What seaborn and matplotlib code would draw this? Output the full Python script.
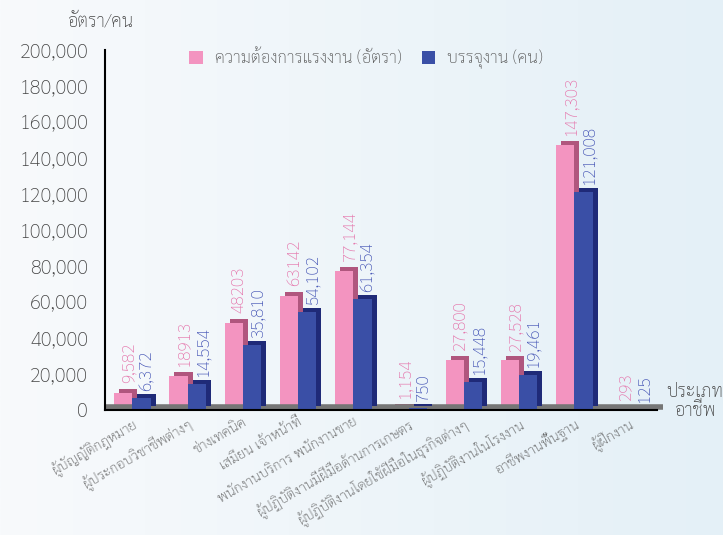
import numpy as np
import pandas as pd
import seaborn as sns
import matplotlib
matplotlib.use("Agg")
import matplotlib.pyplot as plt
import matplotlib.transforms as mtransforms
from matplotlib.colors import LinearSegmentedColormap

# occupation groups
occupations = [
    "ผู้บัญญัติกฎหมาย",
    "ผู้ประกอบวิชาชีพต่างๆ",
    "ช่างเทคนิค",
    "เสมียน เจ้าหน้าที่",
    "พนักงานบริการ พนักงานขาย",
    "ผู้ปฏิบัติงานมีฝีมือด้านการเกษตร",
    "ผู้ปฏิบัติงานโดยใช้ฝีมือในธุรกิจต่างๆ",
    "ผู้ปฏิบัติงานในโรงงาน",
    "อาชีพงานพื้นฐาน",
    "ผู้ฝึกงาน",
]
demand = [9582, 18913, 48203, 63142, 77144, 1154, 27800, 27528, 147303, 293]
placed = [6372, 14554, 35810, 54102, 61354, 750, 15448, 19461, 121008, 125]
# labels as printed on the chart
demand_labels = ["9,582", "18913", "48203", "63142", "77,144", "1,154", "27,800", "27,528", "147,303", "293"]
placed_labels = ["6,372", "14,554", "35,810", "54,102", "61,354", "750", "15,448", "19,461", "121,008", "125"]
yticks = list(range(0, 200001, 20000))

series_demand = "ความต้องการแรงงาน (อัตรา)"
series_placed = "บรรจุงาน (คน)"

df = pd.DataFrame({
    "occupation": occupations * 2,
    "value": demand + placed,
    "series": [series_demand] * len(occupations) + [series_placed] * len(occupations),
})

sns.set_style("white")
plt.rcParams["font.family"] = ["Sarabun", "DejaVu Sans"]
plt.rcParams["font.weight"] = "light"

pink = "#f394c0"
blue = "#3a4fa6"
pink_side = "#b0567e"
blue_side = "#1f2a78"
pink_text = "#e576ac"
blue_text = "#4656b6"

fig = plt.figure(figsize=(7.23, 5.35), dpi=100)

# light gradient background
bg = fig.add_axes([0, 0, 1, 1], zorder=-10)
grad_cmap = LinearSegmentedColormap.from_list("bg", ["#f8fafc", "#e4f0f7"])
bg.imshow(np.linspace(0, 1, 256).reshape(1, -1), aspect="auto", cmap=grad_cmap, extent=[0, 1, 0, 1])
bg.axis("off")

ax = fig.add_axes([0.145, 0.234, 0.764, 0.673])
ax.patch.set_alpha(0)

sns.barplot(data=df, x="occupation", y="value", hue="series",
            palette=[pink, blue], width=0.66, ax=ax, saturation=1,
            edgecolor="none", legend=True)

ax.set_ylim(0, 200000)
ax.set_xlim(-0.5, len(occupations) - 0.5)

# fake 3D depth: a darker copy of every bar pushed up and to the right
depth = mtransforms.ScaledTranslation(5 / 100, 4 / 100, fig.dpi_scale_trans)
n = len(occupations)
bars = [p for p in ax.patches if p.get_height() > 0 or p.get_width() > 0][:2 * n]
for i, p in enumerate(bars):
    side = pink_side if i < n else blue_side
    back = plt.Rectangle((p.get_x(), p.get_y()), p.get_width(), p.get_height(),
                         facecolor=side, edgecolor="none",
                         transform=ax.transData + depth, zorder=p.get_zorder() - 0.1 - (0.5 if i < n else 0))
    ax.add_patch(back)
    if i < n:
        p.set_zorder(p.get_zorder() - 0.5)

# floor
ax.plot([0, 1.01], [0, 0], color="#767676", lw=4, zorder=0.5, solid_capstyle="butt",
        transform=ax.get_yaxis_transform() + mtransforms.ScaledTranslation(0, 2.5 / 100, fig.dpi_scale_trans),
        clip_on=False)

# value labels
for i, p in enumerate(bars):
    text = demand_labels[i] if i < n else placed_labels[i - n]
    color = pink_text if i < n else blue_text
    ax.annotate(text, xy=(p.get_x() + p.get_width() / 2, p.get_height()),
                xytext=(4, 7 if i < n else 5.5), textcoords="offset points", rotation=90,
                ha="center", va="bottom", color=color, fontsize=12.5)

# axes styling
for s in ["top", "right"]:
    ax.spines[s].set_visible(False)
for s in ["left", "bottom"]:
    ax.spines[s].set_color("black")
    ax.spines[s].set_linewidth(1.5)

ax.set_yticks(yticks)
ax.set_yticklabels([f"{v:,}" for v in yticks], fontsize=14.5, color="#444444")
ax.tick_params(axis="y", direction="out", length=6, width=1.5, color="black", pad=6)

ax.set_xticks(np.arange(-0.5, n, 1))
ax.set_xticklabels([""] * (n + 1))
ax.set_xticks(range(n), minor=True)
ax.set_xticklabels(occupations, minor=True, rotation=30, ha="right",
                   rotation_mode="anchor", fontsize=10.2, color="#555555")
ax.tick_params(axis="x", which="major", direction="out", length=6, width=1.5, color="black")
ax.tick_params(axis="x", which="minor", length=0, pad=4)

ax.set_xlabel("")
ax.set_ylabel("")

handles, labels = ax.get_legend_handles_labels()
ax.legend(handles, labels, loc="center", bbox_to_anchor=(366 / 723, 1 - 59 / 535),
          bbox_transform=fig.transFigure, ncol=2, frameon=False, fontsize=12.2,
          handlelength=0.8, handleheight=0.8, handletextpad=0.7, columnspacing=1.2,
          labelcolor="#555555")

fig.text(100 / 723, 1 - 22 / 535, "อัตรา/คน", ha="center", va="center", fontsize=13, color="#444444")
fig.text(666 / 723, 1 - 402 / 535, "ประเภท\nอาชีพ", ha="left", va="center",
         multialignment="center", fontsize=13, color="#444444", linespacing=1.0)

fig.savefig("out.png", dpi=100)
